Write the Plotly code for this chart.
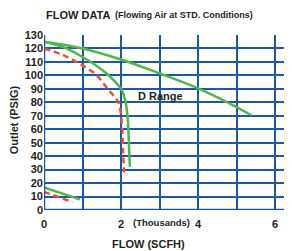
import plotly.graph_objects as go

# D range upper curve (green)
upper_x = [0, 1.0, 2.0, 3.0, 4.0, 5.0, 5.38]
upper_y = [125, 120, 111.8, 101.5, 90.4, 76.5, 70.4]
# D range lower curve (green)
lower_x = [0, 0.5, 1.1, 1.6, 2.0, 2.12, 2.18, 2.21, 2.23]
lower_y = [125, 121, 112, 102, 90, 80, 65, 45, 32]
# red dashed
red_x = [0, 0.5, 1.0, 1.37, 1.65, 1.93, 2.02, 2.05, 2.08]
red_y = [120, 115, 107.4, 100, 90, 80, 65, 45, 28]
# low range
low_green_x = [0, 0.93]
low_green_y = [16.8, 7.9]
low_red_x = [0, 0.74]
low_red_y = [13.5, 5.9]

x_ticks = [0, 1, 2, 3, 4, 5, 6]
x_labels = ["0", "", "2", "", "4", "", "6"]
y_ticks = list(range(0, 131, 10))

GREEN = "#4db848"
RED = "#f04e2f"
BLUE = "#1d58a6"
TXT = "#231f20"
FONT = "Liberation Sans, Arial, sans-serif"

fig = go.Figure()
fig.add_trace(go.Scatter(x=upper_x, y=upper_y, mode="lines", line=dict(color=GREEN, width=2.5, shape="spline")))
fig.add_trace(go.Scatter(x=red_x, y=red_y, mode="lines", line=dict(color=RED, width=2.5, dash="6px,4px", shape="spline")))
fig.add_trace(go.Scatter(x=lower_x, y=lower_y, mode="lines", line=dict(color=GREEN, width=2.5, shape="spline")))
fig.add_trace(go.Scatter(x=low_red_x, y=low_red_y, mode="lines", line=dict(color=RED, width=2.5, dash="6px,4px")))
fig.add_trace(go.Scatter(x=low_green_x, y=low_green_y, mode="lines", line=dict(color=GREEN, width=2.5)))

# page body has an 8px margin, so the figure is 8px smaller and shifted
fig.update_layout(
    width=284, height=243,
    margin=dict(l=36, r=0, t=26.5, b=41, autoexpand=False),
    paper_bgcolor="white", plot_bgcolor="white",
    showlegend=False,
    font=dict(family=FONT, color=TXT, size=11),
    xaxis=dict(range=[0, 6.44], tickvals=x_ticks, ticktext=x_labels, automargin=False,
               showgrid=True, gridcolor=BLUE, gridwidth=2, zeroline=False,
               showline=False, ticks="", ticklen=0, ticklabelstandoff=6,
               tickfont=dict(size=11, family=FONT, color=TXT, weight="bold")),
    yaxis=dict(range=[0, 130], tickvals=y_ticks, automargin=False,
               showgrid=True, gridcolor=BLUE, gridwidth=2, zeroline=False,
               showline=False, ticks="",
               tickfont=dict(size=11, family=FONT, color=TXT, weight="bold")),
)
# axis lines (heavier) at x=0 and y=0
fig.add_shape(type="line", xref="x", yref="paper", x0=0, x1=0, y0=0, y1=1, line=dict(color=BLUE, width=2.5))
fig.add_shape(type="line", xref="paper", yref="y", x0=0, x1=1, y0=0, y1=0, line=dict(color=BLUE, width=2.5))

fig.add_annotation(text="<b>FLOW DATA</b>", xref="paper", yref="paper", x=0.0, y=1.0, yshift=20.5,
                   xanchor="left", yanchor="middle", showarrow=False, font=dict(size=11, color=TXT))
fig.add_annotation(text="<b>(Flowing Air at STD. Conditions)</b>", xref="paper", yref="paper", x=(113 - 44) / 248, y=1.0, yshift=20.5,
                   xanchor="left", yanchor="middle", showarrow=False, font=dict(size=9, color=TXT))
fig.add_annotation(text="<b>(Thousands)</b>", xref="x", yref="paper", x=2.25, y=0, yshift=-12,
                   xanchor="left", yanchor="middle", showarrow=False, font=dict(size=9.5, color=TXT))
fig.add_annotation(text="<b>D Range</b>", xref="x", yref="y", x=2.4, y=84.5,
                   xanchor="left", yanchor="middle", showarrow=False, font=dict(size=11, color=TXT))
fig.add_annotation(text="<b>FLOW (SCFH)</b>", xref="paper", yref="paper", x=(148 - 44) / 248, y=0, yshift=-34,
                   xanchor="center", yanchor="middle", showarrow=False, font=dict(size=11, color=TXT))
fig.add_annotation(text="<b>Outlet (PSIG)</b>", xref="paper", yref="paper", x=0, xshift=-30, y=(210 - 120) / 175.5,
                   xanchor="center", yanchor="middle", textangle=-90, showarrow=False, font=dict(size=11, color=TXT))

fig.write_html("out.html")
